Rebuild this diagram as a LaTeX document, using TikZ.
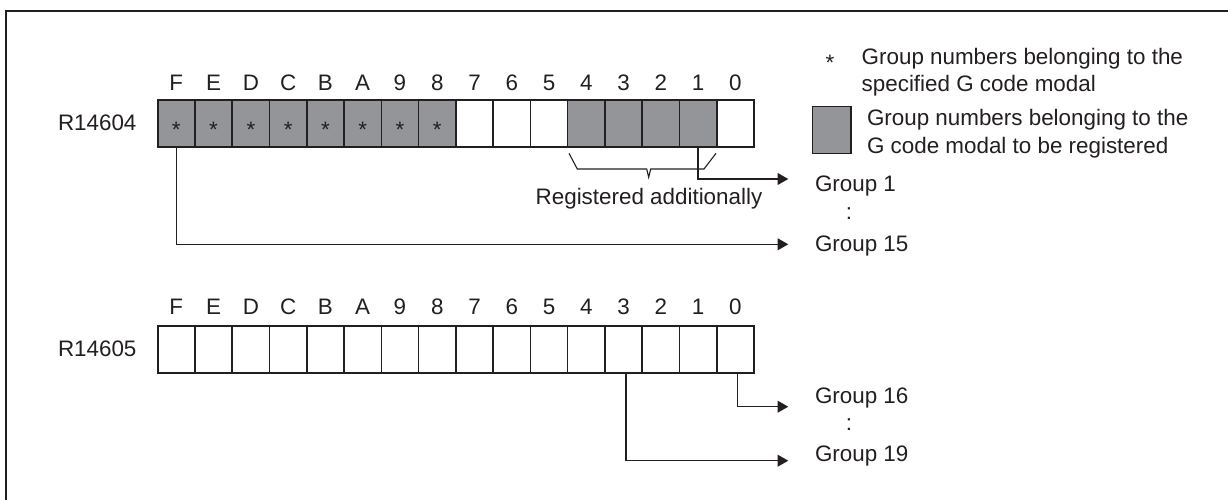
\documentclass[tikz,border=0pt]{standalone}
\usepackage{fontspec}
\setmainfont{Liberation Sans}
\usetikzlibrary{arrows.meta}
\definecolor{ink}{HTML}{231F20}
\definecolor{cellgray}{RGB}{148,149,152}
\begin{document}
\begin{tikzpicture}[x=1pt,y=-1pt,
  every node/.style={inner sep=0pt,outer sep=0pt,text=ink,font=\fontsize{22.4}{26}\selectfont},
  cellbox/.style={draw=ink,line width=1.6pt,minimum width=37.27pt,minimum height=46.7pt,anchor=north west},
  conn/.style={draw=ink,line width=1.5pt},
  arr/.style={conn,-{Triangle[length=10.6pt,width=11.6pt]}},
  bracepath/.style={draw=ink,line width=1.1pt},
  frameline/.style={draw=ink,line width=2.2pt}]
\useasboundingbox (0,0) rectangle (1228,500);
% open frame (left and top edges)
\draw[frameline] (6,500) -- (6,11) -- (1228,11);

% register labels
\node[anchor=base west] (r1) at (58,131) {R14604};
\node[anchor=base west] (r2) at (58,356) {R14605};

\foreach \i/\lab in {0/F,1/E,2/D,3/C,4/B,5/A,6/9,7/8,8/7,9/6,10/5,11/4,12/3,13/2,14/1,15/0} {
  \pgfmathtruncatemacro\g{or(\i<8, and(\i>10,\i<15))}
  \ifnum\g=1 \def\fc{cellgray}\else\def\fc{white}\fi
  \node[cellbox,fill=\fc] (a\i) at ({157.7+37.27*\i},100) {};
  \node[anchor=base] (la\i) at ({176.335+37.27*\i},91) {\lab};
  \node[cellbox,fill=white] (b\i) at ({157.7+37.27*\i},326) {};
  \node[anchor=base] (lb\i) at ({176.335+37.27*\i},314) {\lab};
}
\foreach \i in {0,...,7} {
  \node[anchor=base] (s\i) at ({176.335+37.27*\i},138) {*};
}

% legend
\node[anchor=base] (ls) at (830,71) {*};
\node[anchor=base west] (l1) at (861.7,65) {Group numbers belonging to the};
\node[anchor=base west] (l2) at (861.7,92) {specified G code modal};
\node[cellbox,fill=cellgray,minimum width=38.5pt] (lg) at (812.3,106.7) {};
\node[anchor=base west] (l3) at (867,125) {Group numbers belonging to the};
\node[anchor=base west] (l4) at (867,153.3) {G code modal to be registered};

% brace "Registered additionally"
\draw[bracepath] (569,153.3) -- (577.3,169) -- (646.7,169) -- (648.7,177.3) -- (650.7,169) -- (704,169) -- (716,153.3);
\node[anchor=base east] (reg) at (762.3,204) {Registered additionally};

% group labels
\node[anchor=base west] (g1) at (815,191.7) {Group 1};
\node[anchor=base] (d1) at (849,219.5) {:};
\node[anchor=base west] (g15) at (815,251) {Group 15};
\node[anchor=base west] (g16) at (815,403.3) {Group 16};
\node[anchor=base] (d2) at (849,430.5) {:};
\node[anchor=base west] (g19) at (815,461.7) {Group 19};

\coordinate (e1) at (788.3,179);
\coordinate (e15) at (788.3,244.3);
\coordinate (e16) at (788.3,406.7);
\coordinate (e19) at (788.3,460.7);

% connectors
\draw[arr] (a14.south) |- (e1);
\draw[arr] (a0.south) |- (e15);
\draw[arr] ([xshift=2.3pt]b15.south) |- (e16);
\draw[arr] ([xshift=2.4pt]b12.south) |- (e19);
\end{tikzpicture}
\end{document}
